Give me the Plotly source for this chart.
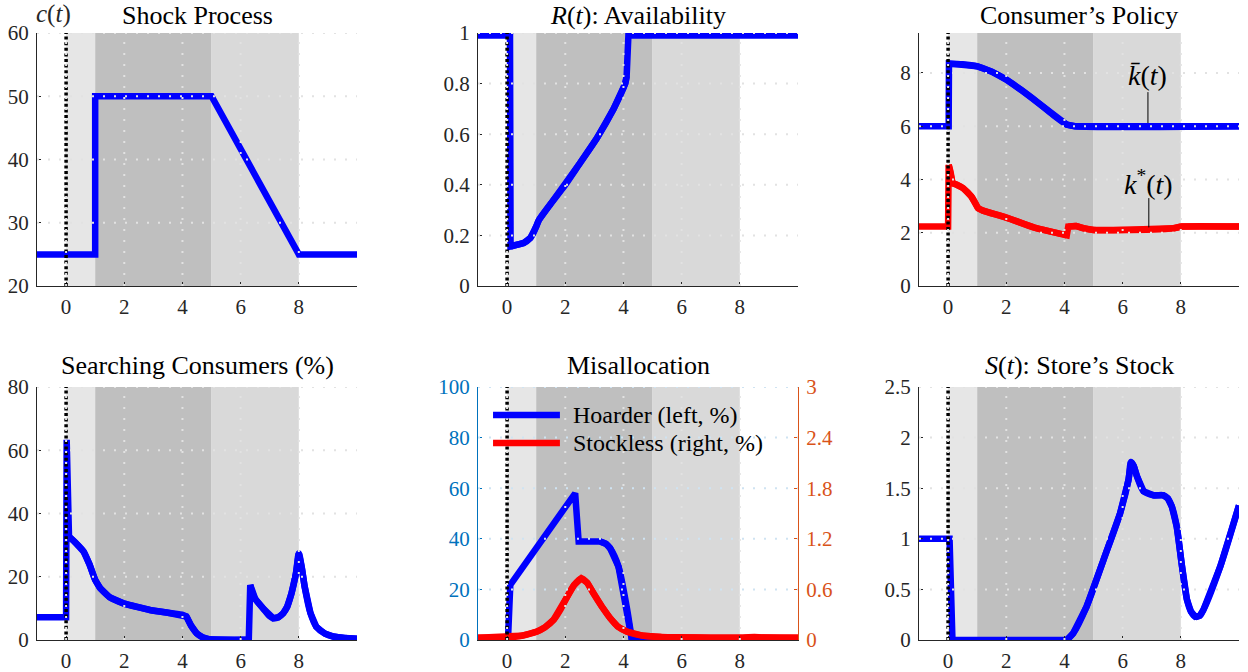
import plotly.graph_objects as go

W, H = 1248, 672

# ---------------------------------------------------------------- data
# shaded phases of the shock (start, end, colour)
phase_edges = [0, 1, 5, 8]
phase_colors = ["#e6e6e6", "#bfbfbf", "#d9d9d9"]
x_ticks = [0, 2, 4, 6, 8]

# c(t): shock process
t_c = [-1, 1.0, 1.0, 5.0, 8.0, 10]
c_vals = [25, 25, 50, 50, 25, 25]

# R(t): availability
t_R = [-1, 0.1, 0.12, 0.3, 0.57, 0.8, 0.91, 1.0, 1.09, 1.5, 2.0, 2.5, 3.09,
       3.66, 4.06, 4.11, 4.17, 10]
R_vals = [0.99, 0.99, 0.156, 0.162, 0.17, 0.19, 0.21, 0.235, 0.26, 0.325,
          0.40, 0.485, 0.585, 0.70, 0.80, 0.83, 0.99, 0.99]

# consumer's policy: kbar(t) and k*(t)
t_kbar = [-1, 0.02, 0.03, 0.5, 1.0, 1.5, 2.0, 2.5, 3.04, 3.6, 4.08, 4.36, 10]
kbar_vals = [6.0, 6.0, 8.35, 8.33, 8.25, 8.05, 7.75, 7.37, 6.93, 6.43, 6.06,
             6.0, 6.0]
t_kstar = [-1, 0.0, 0.02, 0.08, 0.15, 0.3, 0.52, 0.8, 1.03, 1.2, 2.0, 3.0,
           4.02, 4.08, 4.13, 4.4, 4.65, 5.0, 5.9, 7.0, 7.75, 8.04, 10]
kstar_vals = [2.23, 2.23, 4.55, 4.3, 3.86, 3.8, 3.67, 3.36, 2.92, 2.83, 2.57,
              2.18, 1.92, 1.9, 2.23, 2.25, 2.17, 2.1, 2.1, 2.12, 2.17, 2.23,
              2.23]

# searching consumers (%)
t_search = [-1, 0.0, 0.02, 0.1, 0.3, 0.6, 0.8, 1.0, 1.17, 1.5, 1.97, 2.5,
            2.88, 3.5, 4.03, 4.14, 4.3, 4.49, 4.7, 4.94, 5.5, 6.28, 6.33, 6.4,
            6.5, 6.77, 7.0, 7.12, 7.3, 7.46, 7.6, 7.75, 7.9, 8.0, 8.1, 8.2,
            8.4, 8.6, 8.9, 9.18, 9.6, 10]
search_vals = [7.2, 7.2, 63.3, 32.7, 31, 28, 24, 19, 16.4, 13.5, 11.6, 10.3,
               9.5, 8.6, 7.9, 7.4, 4.5, 2.1, 0.8, 0.2, 0.05, 0.05, 17.4, 15,
               13, 10, 7.5, 6.9, 7.2, 8.4, 10.5, 14.8, 21, 27.4, 23, 16.9,
               8.5, 4.2, 2.0, 1.1, 0.6, 0.4]

# misallocation: hoarders (left axis, %) and stockless (right axis, %)
t_hoard = [-1, 0.03, 0.11, 2.34, 2.46, 3.2, 3.4, 3.54, 3.83, 4.11, 4.29, 10]
hoard_vals = [0, 0, 21.8, 58, 38.9, 38.9, 38.0, 36.3, 29, 13.2, 0, 0]
t_stockless = [-1, 0.0, 0.5, 1.03, 1.3, 1.6, 1.85, 2.06, 2.3, 2.55, 2.75,
               2.97, 3.25, 3.54, 3.8, 4.11, 4.4, 4.69, 5.3, 5.83, 7, 8.1, 8.5,
               8.8, 10]
stockless_vals = [0.028, 0.03, 0.05, 0.1, 0.15, 0.24, 0.37, 0.51, 0.65, 0.73,
                  0.68, 0.55, 0.4, 0.26, 0.16, 0.1, 0.07, 0.05, 0.035, 0.03,
                  0.028, 0.028, 0.035, 0.03, 0.028]

# S(t): store's stock
t_S = [-1, 0.05, 0.15, 4.08, 4.3, 4.76, 5.34, 5.91, 6.2, 6.29, 6.38, 6.49,
       6.72, 7.06, 7.4, 7.55, 7.69, 7.86, 8.04, 8.21, 8.35, 8.5, 8.65, 8.78,
       9.36, 10]
S_vals = [1.0, 1.0, 0.0, 0.0, 0.066, 0.33, 0.79, 1.25, 1.58, 1.76, 1.72,
          1.62, 1.47, 1.43, 1.43, 1.40, 1.32, 1.12, 0.73, 0.40, 0.28, 0.23,
          0.24, 0.30, 0.73, 1.33]

# ---------------------------------------------------------------- styling
BLUE, RED = "#0000ff", "#ff0000"
AX_BLUE, AX_ORANGE = "#0072BD", "#D95319"
INK = "#262626"
FONT = "Liberation Serif, Times New Roman, DejaVu Serif, serif"
LW = 6.5
GRID = "#e2e2e2"
GRID_BLUE = "#cfe3f2"

col_px = [(37, 357), (478, 798), (919, 1239)]
row_px = [(33, 286), (387, 640)]


def xdom(i):
    a, b = col_px[i]
    return [a / W, b / W]


def ydom(j):
    top, bot = row_px[j]
    return [1 - bot / H, 1 - top / H]


def sfx(k):
    return "" if k == 1 else str(k)


panels = [
    # (row, col, y range, y ticks, y tick text)
    (0, 0, [20, 60], [20, 30, 40, 50, 60], None),
    (0, 1, [0, 1], [0, 0.2, 0.4, 0.6, 0.8, 1],
     ["0", "0.2", "0.4", "0.6", "0.8", "1"]),
    (0, 2, [0, 9.5], [0, 2, 4, 6, 8], None),
    (1, 0, [0, 80], [0, 20, 40, 60, 80], None),
    (1, 1, [0, 100], [0, 20, 40, 60, 80, 100], None),
    (1, 2, [0, 2.5], [0, 0.5, 1, 1.5, 2, 2.5],
     ["0", "0.5", "1", "1.5", "2", "2.5"]),
]

fig = go.Figure()


def add_series(x, y, color, n, corners=None, yaxis=None):
    """Polyline through all knots; smooth pieces between kinks on top."""
    xa, ya = f"x{sfx(n)}", yaxis or f"y{sfx(n)}"
    common = dict(mode="lines", xaxis=xa, yaxis=ya, showlegend=False,
                  hoverinfo="skip")
    fig.add_trace(go.Scatter(x=x, y=y, line=dict(color=color, width=LW),
                             **common))
    if corners is None:
        return
    idx = sorted(set([0] + list(corners) + [len(x) - 1]))
    for a, b in zip(idx[:-1], idx[1:]):
        if b - a >= 2:
            fig.add_trace(go.Scatter(
                x=x[a:b + 1], y=y[a:b + 1],
                line=dict(color=color, width=LW, shape="spline",
                          smoothing=0.8),
                **common))


add_series(t_c, c_vals, BLUE, 1)
add_series(t_R, R_vals, BLUE, 2, corners=[1, 2, 15, 16])
add_series(t_kbar, kbar_vals, BLUE, 3, corners=[1, 2])
add_series(t_kstar, kstar_vals, RED, 3, corners=[1, 2, 4, 8, 13, 14])
add_series(t_search, search_vals, BLUE, 4, corners=[1, 2, 3, 8, 15, 21, 22])
add_series(t_hoard, hoard_vals, BLUE, 5, corners=[1, 2, 3, 4, 5, 10])
add_series(t_stockless, stockless_vals, RED, 5, corners=[], yaxis="y7")
add_series(t_S, S_vals, BLUE, 6, corners=[1, 2, 3])

layout = dict(
    width=W, height=H, margin=dict(l=0, r=0, t=0, b=0, pad=0),
    autosize=False,
    paper_bgcolor="white", plot_bgcolor="rgba(0,0,0,0)",
    font=dict(family=FONT, size=21, color=INK),
    showlegend=False,
)

shapes_below, shapes_above = [], []
tick_font = dict(family=FONT, size=21, color=INK)

for k, (r, cidx, yr, yt, ytt) in enumerate(panels, start=1):
    xn, yn = f"x{sfx(k)}", f"y{sfx(k)}"
    xa = dict(domain=xdom(cidx), range=[-1, 10], anchor=yn,
              tickvals=x_ticks, ticks="inside", ticklen=4, tickwidth=1,
              tickcolor=INK, showline=True, linecolor=INK, linewidth=1.2,
              showgrid=False, zeroline=False, tickfont=tick_font,
              ticklabelstandoff=2, automargin=False, fixedrange=True)
    ycol = AX_BLUE if k == 5 else INK
    ya = dict(domain=ydom(r), range=yr, anchor=xn, tickvals=yt,
              ticks="inside", ticklen=4, tickwidth=1, tickcolor=ycol,
              showline=True, linecolor=ycol, linewidth=1.2, showgrid=False,
              zeroline=False, tickfont=dict(family=FONT, size=21, color=ycol),
              ticklabelstandoff=3, automargin=False, fixedrange=True)
    if ytt:
        ya["ticktext"] = ytt
    layout[f"xaxis{sfx(k)}"] = xa
    layout[f"yaxis{sfx(k)}"] = ya

    # phase shading
    for (a, b), col in zip(zip(phase_edges[:-1], phase_edges[1:]),
                           phase_colors):
        shapes_below.append(dict(
            type="rect", xref=xn, yref=f"{yn} domain", x0=a, x1=b,
            y0=0, y1=1, fillcolor=col, line=dict(width=0), layer="below"))

    # shock date marker
    shapes_above.append(dict(
        type="line", xref=xn, yref=f"{yn} domain", x0=0, x1=0, y0=0,
        y1=1, line=dict(color="black", width=3.5, dash="3px,2.6px"),
        layer="above"))

    # dotted grid drawn over the curves
    for xv in x_ticks:
        shapes_above.append(dict(
            type="line", xref=xn, yref=f"{yn} domain", x0=xv, x1=xv,
            y0=0, y1=1, line=dict(color=GRID, width=2, dash="2px,9px"),
            layer="above"))
    for yv in yt[1:]:
        shapes_above.append(dict(
            type="line", xref=f"{xn} domain", yref=yn, x0=0, x1=1,
            y0=yv, y1=yv,
            line=dict(color=GRID_BLUE if k == 5 else GRID, width=2,
                      dash="2px,9px"),
            layer="above"))

# right-hand axis of the misallocation panel
layout["yaxis7"] = dict(
    overlaying="y5", side="right", anchor="x5", range=[0, 3],
    tickvals=[0, 0.6, 1.2, 1.8, 2.4, 3],
    ticktext=["0", "0.6", "1.2", "1.8", "2.4", "3"],
    ticks="inside", ticklen=4, tickwidth=1, tickcolor=AX_ORANGE,
    showline=True, linecolor=AX_ORANGE, linewidth=1.2, showgrid=False,
    zeroline=False, tickfont=dict(family=FONT, size=21, color=AX_ORANGE),
    ticklabelstandoff=3, automargin=False, fixedrange=True)

# legend of the misallocation panel
legend_items = [("Hoarder (left, %)", BLUE, 0.889),
                ("Stockless (right, %)", RED, 0.779)]
annotations = []
for label, col, yy in legend_items:
    shapes_above.append(dict(
        type="line", xref="x5 domain", yref="y5 domain", x0=0.047, x1=0.256,
        y0=yy, y1=yy, line=dict(color=col, width=6.5), layer="above"))
    annotations.append(dict(
        text=label, xref="x5 domain", yref="y5 domain", x=0.29, y=yy,
        xanchor="left", yanchor="middle", showarrow=False,
        font=dict(family=FONT, size=24, color="black")))

# curve labels in the policy panel
curve_labels = [("<i>k̄</i>(<i>t</i>)", 6.87, 7.9, 7.28, 6.12),
                ("<i>k</i><sup>*</sup>(<i>t</i>)", 6.9, 3.9, 3.3, 2.2)]
for txt, xv, ytxt, ytop, ybot in curve_labels:
    annotations.append(dict(
        text=txt, xref="x3", yref="y3", x=xv, y=ytxt, showarrow=False,
        xanchor="center", yanchor="middle",
        font=dict(family=FONT, size=28, color="black")))
    shapes_above.append(dict(
        type="line", xref="x3", yref="y3", x0=xv, x1=xv, y0=ytop, y1=ybot,
        line=dict(color="black", width=1), layer="above"))

# panel titles
titles = ["Shock Process", "<i>R</i>(<i>t</i>): Availability",
          "Consumer’s Policy", "Searching Consumers (%)", "Misallocation",
          "<i>S</i>(<i>t</i>): Store’s Stock"]
title_y = [15.5, 365]
for k, ttl in enumerate(titles):
    r, cidx = divmod(k, 3)
    a, b = col_px[cidx]
    annotations.append(dict(
        text=ttl, xref="paper", yref="paper", x=(a + b) / 2 / W,
        y=1 - title_y[r] / H, xanchor="center", yanchor="middle",
        showarrow=False, borderpad=0,
        font=dict(family=FONT, size=26, color="black")))

# y-axis label of the shock panel, sitting above the axis to the right of
# the top tick label
annotations.append(dict(
    text="<i>c</i>(<i>t</i>)", xref="paper", yref="paper", x=35 / W,
    y=1 - 14 / H, xanchor="left", yanchor="middle", showarrow=False,
    borderpad=0, font=dict(family=FONT, size=25, color=INK)))

layout["shapes"] = shapes_below + shapes_above
layout["annotations"] = annotations
fig.update_layout(**layout)

fig.write_html("out.html")
